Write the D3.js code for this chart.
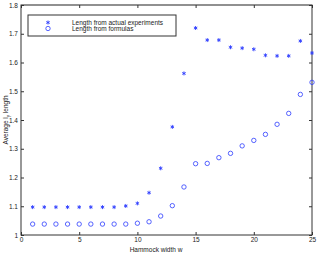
<!DOCTYPE html>
<html><head><meta charset="utf-8">
<script src="https://cdn.jsdelivr.net/npm/d3@7"></script>
<style>body{margin:0;background:#fff}svg{display:block}text{font-family:"Liberation Sans",Arial,sans-serif;fill:#222}</style>
</head><body>
<script>
const widths = d3.range(1, 26);
const actual = [1.097,1.097,1.097,1.097,1.097,1.097,1.097,1.097,1.101,1.110,1.147,1.232,1.376,1.562,1.720,1.678,1.678,1.653,1.650,1.646,1.625,1.623,1.623,1.675,1.633];
const formula = [1.038,1.038,1.038,1.038,1.038,1.038,1.038,1.038,1.038,1.041,1.046,1.066,1.102,1.167,1.248,1.249,1.269,1.284,1.310,1.329,1.350,1.385,1.423,1.489,1.531];
const xTicks = [0,5,10,15,20,25];
const yTicks = [1,1.1,1.2,1.3,1.4,1.5,1.6,1.7,1.8];
const legendLabels = ["Length from actual experiments","Length from formulas"];

const W=319,H=253, L=21,R=312,T=5,B=235;
const svg=d3.select("body").append("svg").attr("width",W).attr("height",H);
const x=d3.scaleLinear().domain([0,25]).range([L,R]);
const y=d3.scaleLinear().domain([1,1.8]).range([B,T]);
const blue="#2c3cff";

// box
svg.append("rect").attr("x",L).attr("y",T).attr("width",R-L).attr("height",B-T).attr("fill","none").attr("stroke","#333").attr("stroke-width",1);
svg.append("line").attr("x1",L).attr("x2",R).attr("y1",T).attr("y2",T).attr("stroke","#888").attr("stroke-width",1.2);

const fmt=d=>d3.format("~g")(d);
// axes
const xb=svg.append("g").attr("transform",`translate(0,${B})`).call(d3.axisBottom(x).tickValues(xTicks).tickSize(-3).tickPadding(2).tickFormat(fmt));
const xt=svg.append("g").attr("transform",`translate(0,${T})`).call(d3.axisTop(x).tickValues(xTicks).tickSize(-3).tickFormat(""));
const yl=svg.append("g").attr("transform",`translate(${L},0)`).call(d3.axisLeft(y).tickValues(yTicks).tickSize(-3).tickPadding(3).tickFormat(fmt));
const yr=svg.append("g").attr("transform",`translate(${R},0)`).call(d3.axisRight(y).tickValues(yTicks).tickSize(-3).tickFormat(""));
[xb,xt,yl,yr].forEach(g=>{g.select(".domain").remove();g.selectAll("line").attr("stroke","#333");g.selectAll("text").attr("font-size","6.5px").attr("fill","#222").attr("font-family","Liberation Sans, Arial, sans-serif");});

// labels
svg.append("text").attr("x",156).attr("y",251.5).attr("text-anchor","middle").attr("font-size","6.5px").text("Hammock width w");
const yt=svg.append("text").attr("transform",`translate(8,${(T+B)/2}) rotate(-90)`).attr("text-anchor","middle").attr("font-size","6.5px");
yt.append("tspan").text("Average l");
yt.append("tspan").attr("font-size","4.5px").attr("dy",1.5).text("y");
yt.append("tspan").attr("dy",-1.5).text(" length");

function drawStar(g,cx,cy){
  const s=2;
  const p=g.append("g").attr("transform",`translate(${cx},${cy})`).attr("stroke",blue).attr("stroke-width",0.9);
  p.append("line").attr("x1",0).attr("x2",0).attr("y1",-s).attr("y2",s);
  p.append("line").attr("x1",-s*0.87).attr("x2",s*0.87).attr("y1",-s*0.5).attr("y2",s*0.5);
  p.append("line").attr("x1",-s*0.87).attr("x2",s*0.87).attr("y1",s*0.5).attr("y2",-s*0.5);
}
const ps=svg.append("g");
widths.forEach((w,i)=>drawStar(ps,x(w),y(actual[i])));
svg.append("g").selectAll("circle").data(formula).join("circle")
  .attr("cx",(d,i)=>x(widths[i])).attr("cy",d=>y(d)).attr("r",2.2)
  .attr("fill","none").attr("stroke",blue).attr("stroke-width",0.8);

// legend
const lg=svg.append("g");
lg.append("rect").attr("x",28).attr("y",15).attr("width",148).attr("height",21).attr("fill","#fff").attr("stroke","#333").attr("stroke-width",1);
drawStar(lg,48,22.5);
lg.append("circle").attr("cx",48).attr("cy",28.5).attr("r",2.2).attr("fill","none").attr("stroke",blue).attr("stroke-width",0.8);
legendLabels.forEach((t,i)=>lg.append("text").attr("x",72).attr("y",24.8+i*5.8).attr("font-size","6.5px").text(t));
</script>
</body></html>
